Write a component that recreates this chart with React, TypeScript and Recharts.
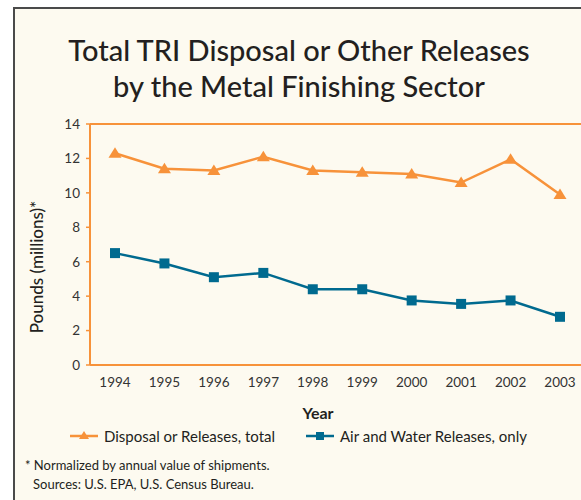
import { LineChart, Line, XAxis, YAxis, ReferenceLine } from 'recharts'

// Values (pounds, millions, normalized)
const years = ['1994', '1995', '1996', '1997', '1998', '1999', '2000', '2001', '2002', '2003']
const totalReleases = [12.3, 11.4, 11.3, 12.1, 11.3, 11.2, 11.1, 10.6, 11.95, 9.9]
const airWaterReleases = [6.5, 5.9, 5.1, 5.35, 4.4, 4.4, 3.75, 3.55, 3.75, 2.8]
const yTicks = [0, 2, 4, 6, 8, 10, 12, 14]

const ORANGE = '#f7923a'
const BLUE = '#006a8f'
const INK = '#231f20'
const FONT = 'Lato, "Open Sans", sans-serif'

const data = years.map((year, i) => ({
  year,
  total: totalReleases[i],
  airWater: airWaterReleases[i],
}))

function Triangle({ cx, cy }: { cx?: number; cy?: number }) {
  if (cx == null || cy == null) return null
  return <path d={`M${cx},${cy - 6} L${cx + 6.5},${cy + 4.5} L${cx - 6.5},${cy + 4.5} Z`} fill={ORANGE} />
}

function Square({ cx, cy }: { cx?: number; cy?: number }) {
  if (cx == null || cy == null) return null
  return <rect x={cx - 5} y={cy - 5} width={10} height={10} fill={BLUE} />
}

function LegendItem({ left, color, label, marker }: { left: number; color: string; label: string; marker: 'tri' | 'sq' }) {
  return (
    <div style={{ position: 'absolute', left, top: 0, display: 'flex', alignItems: 'center', whiteSpace: 'nowrap' }}>
      <svg width={28} height={12} style={{ marginRight: 6 }}>
        <line x1={0} y1={6} x2={28} y2={6} stroke={color} strokeWidth={2.5} />
        {marker === 'tri'
          ? <path d="M14,1 L19,9 L9,9 Z" fill={color} />
          : <rect x={10} y={2} width={8} height={8} fill={color} />}
      </svg>
      <span>{label}</span>
    </div>
  )
}

export default function App() {
  return (
    <div style={{ position: 'fixed', left: 0, top: 0, width: 581, height: 500, overflow: 'hidden', background: '#fff', fontFamily: FONT, color: INK }}>
      <div style={{ position: 'absolute', left: 13, top: 7, width: 620, height: 520, background: '#fdfaf0', borderLeft: '2.5px solid #4a4a4a', borderTop: '2.5px solid #4a4a4a' }} />

      <div style={{ position: 'absolute', left: 0, top: 32, width: 598, textAlign: 'center', fontSize: 29, lineHeight: '36px', fontWeight: 500 }}>
        Total TRI Disposal or Other Releases<br />by the Metal Finishing Sector
      </div>

      <div style={{ position: 'absolute', left: 0, top: 0 }}>
        <LineChart width={600} height={400} data={data} margin={{ top: 124, right: 15, bottom: 5, left: 0 }}>
          <XAxis
            dataKey="year"
            padding={{ left: 25, right: 25 }}
            axisLine={{ stroke: ORANGE, strokeWidth: 2 }}
            tickLine={false}
            tickSize={6}
            tickMargin={6}
            height={30}
            tick={{ fill: '#333', fontSize: 13.5, fontFamily: FONT }}
          />
          <YAxis
            domain={[0, 14]}
            ticks={yTicks}
            width={90}
            axisLine={{ stroke: ORANGE, strokeWidth: 2 }}
            tickLine={{ stroke: ORANGE, strokeWidth: 1.5 }}
            tickSize={4}
            tickMargin={6}
            tick={{ fill: '#333', fontSize: 13.5, fontFamily: FONT }}
          />
          <ReferenceLine y={14} stroke={ORANGE} strokeWidth={2} />
          <Line
            dataKey="total"
            stroke={ORANGE}
            strokeWidth={2.5}
            dot={<Triangle />}
            isAnimationActive={false}
          />
          <Line
            dataKey="airWater"
            stroke={BLUE}
            strokeWidth={2.5}
            dot={<Square />}
            isAnimationActive={false}
          />
        </LineChart>
      </div>

      <div style={{ position: 'absolute', left: 36, top: 267, transform: 'translate(-50%, -50%) rotate(-90deg)', fontSize: 17, fontWeight: 500, whiteSpace: 'nowrap' }}>
        Pounds (millions)*
      </div>

      <div style={{ position: 'absolute', left: 318, top: 403, transform: 'translateX(-50%)', fontSize: 16, fontWeight: 700 }}>
        Year
      </div>

      <div style={{ position: 'absolute', left: 0, top: 427, width: 581, height: 22, fontSize: 15 }}>
        <LegendItem left={70} color={ORANGE} label="Disposal or Releases, total" marker="tri" />
        <LegendItem left={306} color={BLUE} label="Air and Water Releases, only" marker="sq" />
      </div>

      <div style={{ position: 'absolute', left: 25, top: 456, fontSize: 13, lineHeight: '19px' }}>
        <div>* Normalized by annual value of shipments.</div>
        <div style={{ paddingLeft: 8 }}>Sources: U.S. EPA, U.S. Census Bureau.</div>
      </div>
    </div>
  )
}
